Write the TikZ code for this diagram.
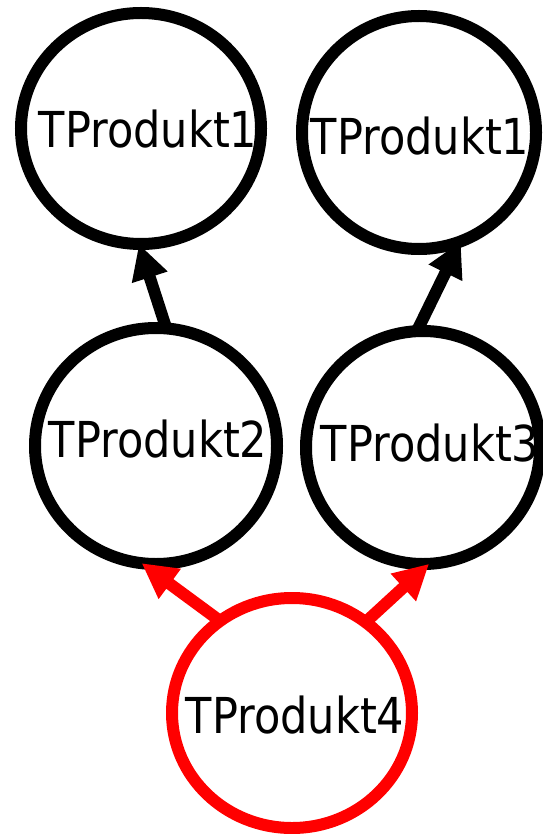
\documentclass[tikz,border=0pt]{standalone}
\usepackage{fontspec}
\setmainfont{DejaVu Sans}
\usetikzlibrary{arrows.meta,shapes.geometric}
\newcommand\plab[1]{\scalebox{0.87}[1]{#1}}
\begin{document}
\begin{tikzpicture}[x=1pt,y=-1pt,
  circ/.style 2 args={ellipse,draw,line width=12pt,inner sep=0pt,outer sep=0pt,minimum width=#1,minimum height=#2},
  lbl/.style={anchor=base,inner sep=0pt,font=\fontsize{49.5}{59}\selectfont},
  arr/.style={line width=12pt,-{Triangle[length=35pt,width=35pt]}}
]
\useasboundingbox (0,0) rectangle (542,834);
% circles
\node[circ={240pt}{231pt}] (t1) at (141,128.5) {};
\node[circ={234pt}{233pt}] (t2) at (419,132.5) {};
\node[circ={242pt}{236pt}] (m1) at (156,446) {};
\node[circ={234pt}{233pt}] (m2) at (423,447.5) {};
\node[circ={240pt}{230pt},draw=red] (r) at (292,713) {};
% labels
\node[lbl] (t1l) at (148,148) {\plab{TProdukt1}};
\node[lbl] (t2l) at (420,155) {\plab{TProdukt1}};
\node[lbl] (m1l) at (158,457) {\plab{TProdukt2}};
\node[lbl] (m2l) at (430,461) {\plab{TProdukt3}};
\node[lbl] (rl) at (295,733) {\plab{TProdukt4}};
% connectors
\draw[arr] (m1.85) -- (t1.-91);
\draw[arr] (m2.93) -- (t2.-69);
\draw[arr,red] (r.128) -- (m1.-97);
\draw[arr,red] (r.51) -- (m2.-87);
\end{tikzpicture}
\end{document}
